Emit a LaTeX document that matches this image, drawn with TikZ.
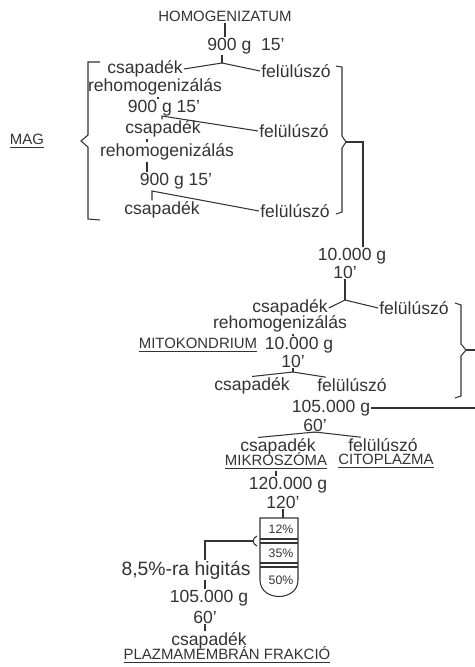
\documentclass[tikz,border=0pt]{standalone}
\usepackage{fontspec}
\setmainfont{Liberation Sans}
\usetikzlibrary{calc, positioning}
\definecolor{ink}{HTML}{333333}
\tikzset{
  lbl/.style={inner sep=0.5pt, text=ink, font=\fontsize{10}{11}\selectfont},
  caps/.style={lbl, font=\fontsize{8.5}{10}\selectfont},
  pct/.style={lbl, font=\fontsize{7}{8}\selectfont},
  wire/.style={draw=ink, line width=0.6pt},
}

\begin{document}
\begin{tikzpicture}[x=0.02cm, y=-0.02cm]
\useasboundingbox (0,0) rectangle (475,667);
% nucleus part
\node[caps] (hom) at (225,16) {HOMOGENIZATUM};
\node[lbl] (s1) at (246,46) {900 g\ \ 15’};
\node[lbl] (c1) at (145,69) {csapadék};
\node[lbl] (f1) at (296,71) {felülúszó};
\node[lbl] (r1) at (155,87) {rehomogenizálás};
\node[lbl] (s2) at (164,108) {900 g 15’};
\node[lbl] (c2) at (163,129) {csapadék};
\node[lbl] (f2) at (294,131) {felülúszó};
\node[lbl] (r2) at (167,152) {rehomogenizálás};
\node[lbl] (s3) at (176,181) {900 g 15’};
\node[lbl] (c3) at (162,210) {csapadék};
\node[lbl] (f3) at (295,211) {felülúszó};
\node[caps] (mag) at (27,141) {\underline{MAG}};
% mitochondria part
\node[lbl] (n1) at (352,256) {10.000 g};
\node[lbl] (m1) at (345,272) {10’};
\node[lbl] (c4) at (290,308) {csapadék};
\node[lbl] (f4) at (414,308) {felülúszó};
\node[lbl] (r4) at (280,324) {rehomogenizálás};
\node[caps] (mito) at (198,345) {\underline{MITOKONDRIUM}};
\node[lbl] (n2) at (299,345) {10.000 g};
\node[lbl] (m2) at (293,361) {10’};
\node[lbl] (c5) at (252,386) {csapadék};
\node[lbl] (f5) at (352,385) {felülúszó};
% microsomes
\node[lbl] (n3) at (331,408) {105.000 g};
\node[lbl] (m3) at (315,425) {60’};
\node[lbl] (c6) at (278,447) {csapadék};
\node[lbl] (f6) at (383,445) {felülúszó};
\node[caps] (mikro) at (276,461) {\underline{MIKROSZÓMA}};
\node[caps] (cito) at (386,461) {\underline{CITOPLAZMA}};
% gradient
\node[lbl] (n4) at (288,485) {120.000 g};
\node[lbl] (m4) at (283,502) {120’};
\node[pct] (p12) at (281,529) {12\%};
\node[pct] (p35) at (281,553) {35\%};
\node[pct] (p50) at (281,580) {50\%};
\node[lbl, font=\fontsize{11}{12}\selectfont] (dil) at (186,570) {8,5\%-ra higitás};
\node[lbl] (n5) at (209,598) {105.000 g};
\node[lbl] (m5) at (205,617) {60’};
\node[lbl] (c7) at (209,641) {csapadék};
\node[caps] (plaz) at (227,655) {\underline{PLAZMAMEMBRÁN FRAKCIÓ}};

\coordinate (v1) at (222,63);
\coordinate (v2) at (162,116);
\coordinate (v3) at (152,191);
\coordinate (v4) at (345,300);
\coordinate (v5) at (293,372);
\coordinate (v6) at (315,432);
\coordinate (k1) at (158,0);
\coordinate (k2) at (147,0);
\coordinate (k4) at (363,0);
\coordinate (k5) at (293,0);
\coordinate (k6) at (205,0);
\coordinate (b1) at (346,142);
\coordinate (b2) at (466,350);
\coordinate (e1) at (475,350);
\coordinate (e2) at (475,408);
\coordinate (tt) at (283,518);
\coordinate (hk) at (253,541);

% spins and forks
\draw[wire] (hom.south) -- (hom.south |- s1.north);
\draw[wire] (s1.south -| v1) -- (v1);
\draw[wire] (c1.east) -- (v1) -- (f1.west);
\draw[wire] (r1.south -| k1) -- (s2.north -| k1);
\draw[wire] (c2.north -| v2) -- (v2) -- (f2.west);
\draw[wire] (c2.south -| k2) -- (r2.north -| k2);
\draw[wire] (r2.south -| k2) -- (s3.north -| k2);
\draw[wire] (c3.north -| v3) -- (v3) -- (f3.west);
\draw[wire] (m1.south) -- (v4);
\draw[wire] (c4.east) -- (v4) -- (f4.west);
\draw[wire] (r4.south -| k5) -- (n2.north -| k5);
\draw[wire] (m2.south) -- (v5);
\draw[wire] (c5.north) -- (v5) -- ($(f5.north west)+(10,0)$);
\draw[wire] (n3.east) -- (e2);
\draw[wire] (m3.south) -- (v6);
\draw[wire] ($(c6.north)+(-20,0)$) -- (v6) -- ($(f6.north)+(-22,0)$);
\draw[wire] (mikro.south) -- (mikro.south |- n4.north);
\draw[wire] (m4.south) -- (tt);
\draw[wire] (hk) -- (k6 |- hk) -- (dil.north -| k6);
\draw[wire] (dil.south -| k6) -- (n5.north -| k6);
\draw[wire] (m5.south -| k6) -- (c7.north -| k6);

% braces
\draw[wire] (100,62) -- (88,62) -- (88,135) -- (81,141) -- (88,147) -- (88,219) -- (100,220);
\draw[wire] (336,66) -- (342,67) -- (342,136) -- (b1) -- (342,148) -- (342,212) -- (336,214);
\draw[wire] (b1) -| (n1.north -| k4);
\draw[wire] (455,303) -- (461,305) -- (461,344) -- (b2) -- (461,356) -- (461,396) -- (455,398);
\draw[wire] (b2) -- (e1);

% tube
\draw[wire] (260,518) -- (298,518) -- (298,580) .. controls (298,602) and (260,602) .. (260,580) -- cycle;
\foreach \yy in {539,543,563,567} \draw[wire] (260,\yy) -- (298,\yy);
\draw[wire] (257,536) .. controls (252,538) and (252,544) .. (257,546);
\end{tikzpicture}
\end{document}
